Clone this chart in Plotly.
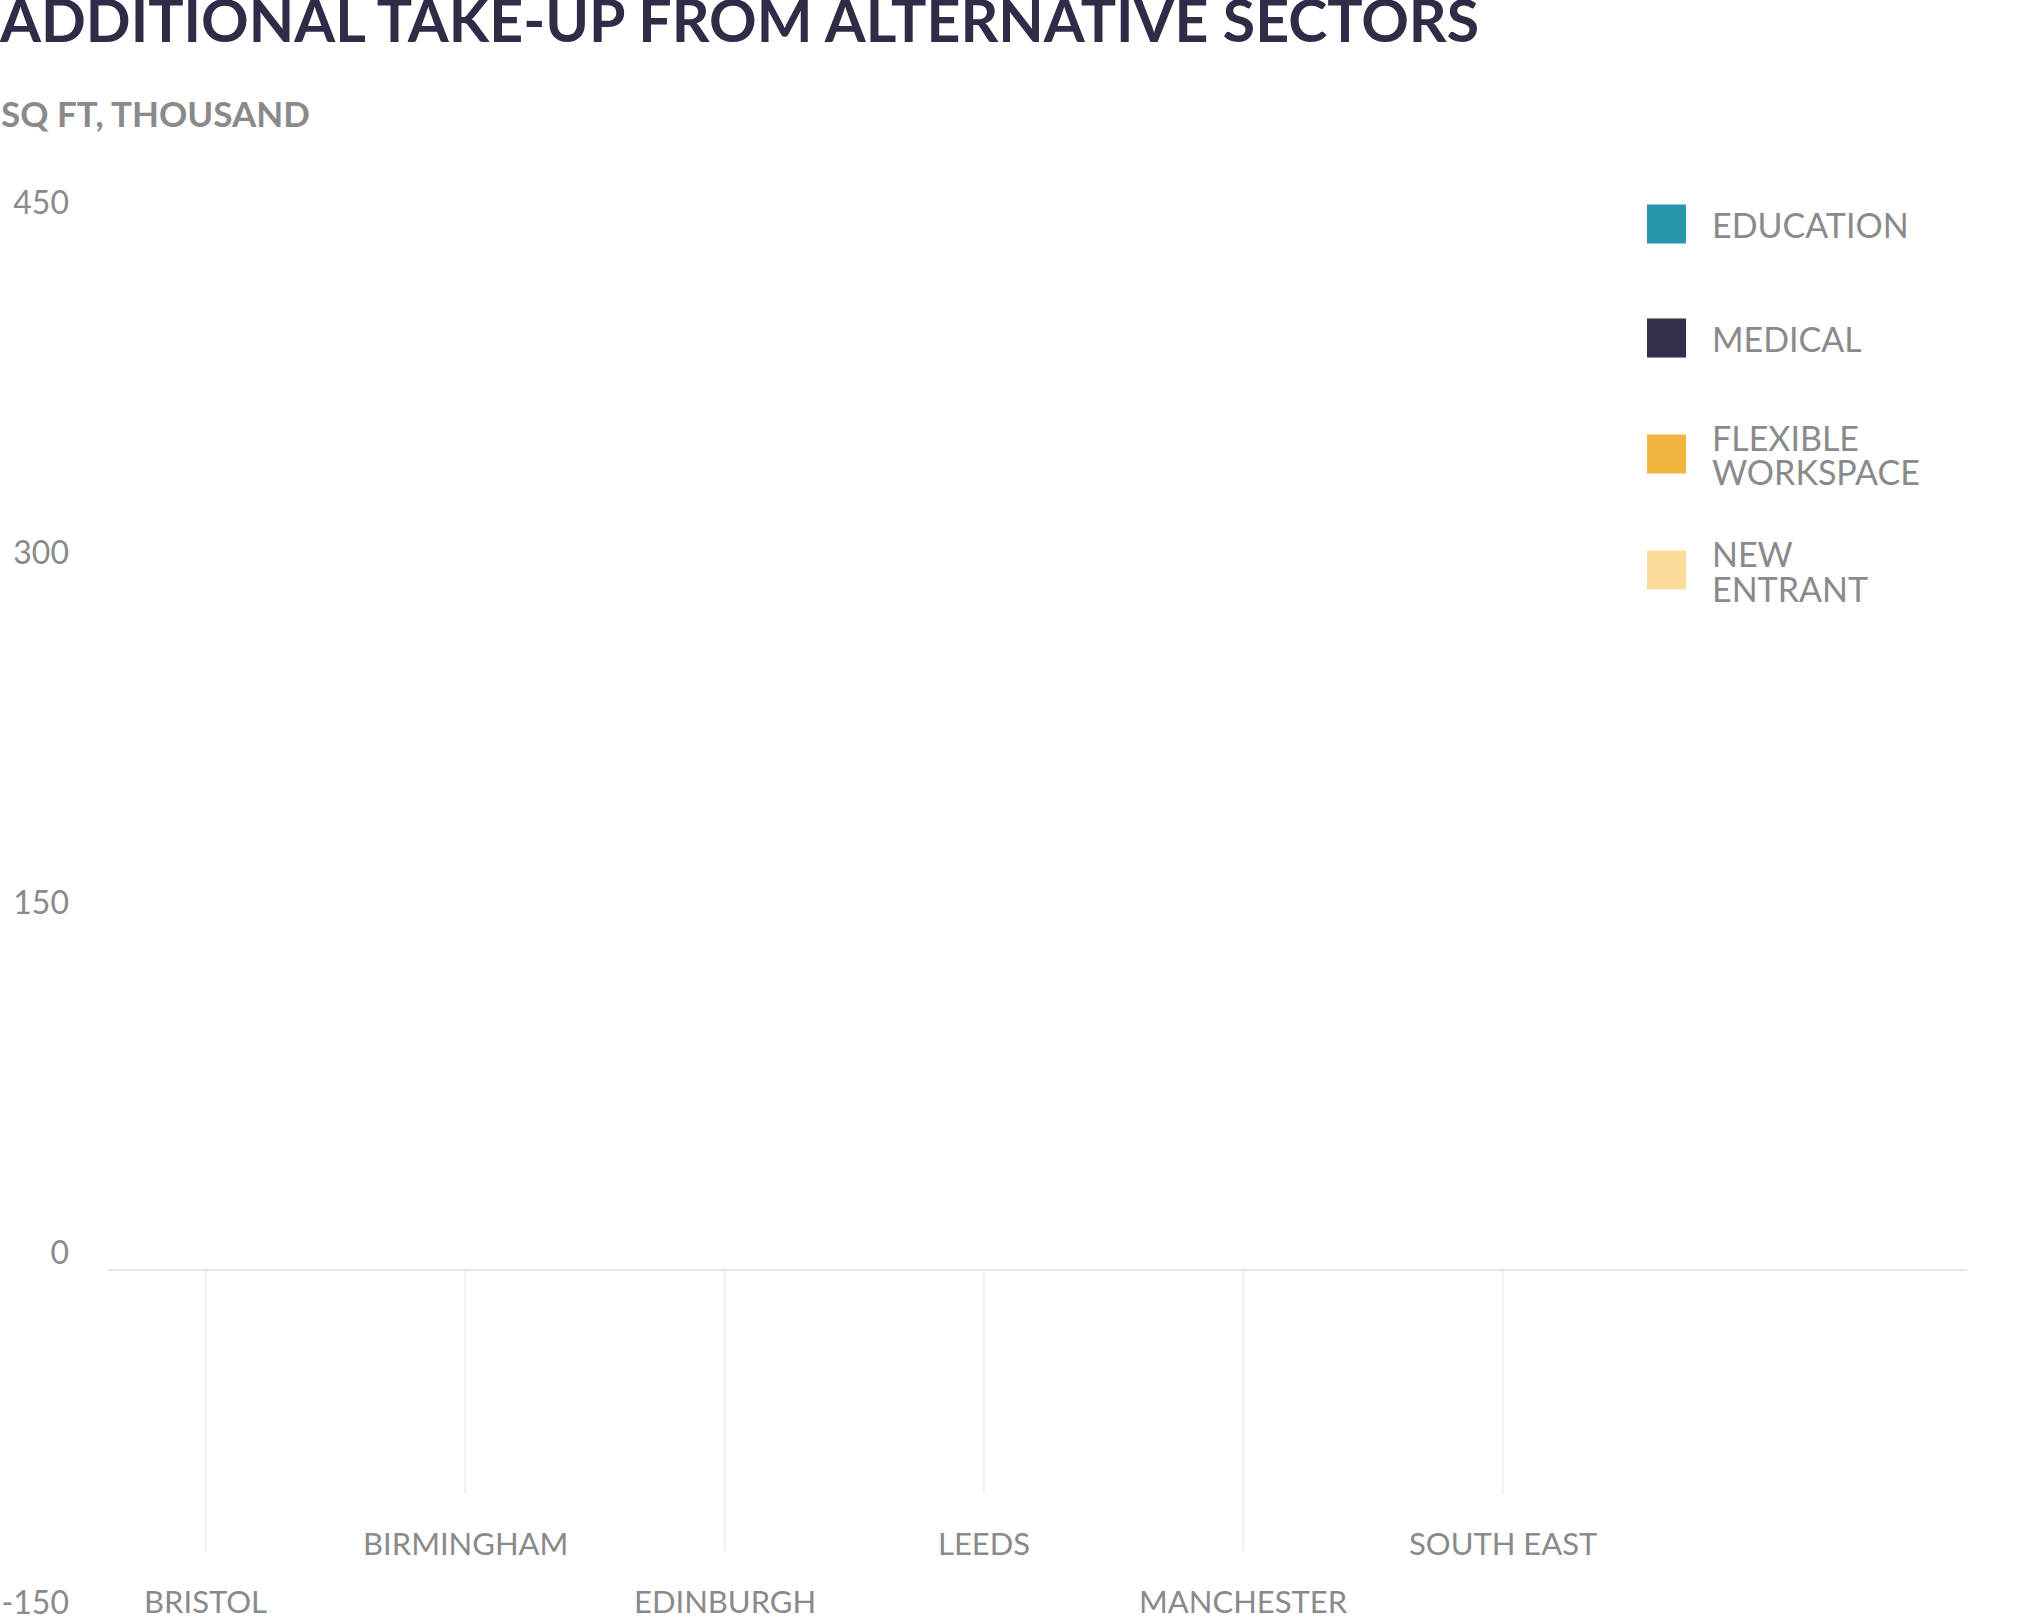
import plotly.graph_objects as go

# ---------------- data ----------------
categories = ["BRISTOL", "BIRMINGHAM", "EDINBURGH", "LEEDS", "MANCHESTER", "SOUTH EAST"]
series_names = ["EDUCATION", "MEDICAL", "FLEXIBLE<br>WORKSPACE", "NEW<br>ENTRANT"]
# the reference shows the chart before any bars have grown: every value reads 0
education = [0, 0, 0, 0, 0, 0]
medical = [0, 0, 0, 0, 0, 0]
flexible_workspace = [0, 0, 0, 0, 0, 0]
new_entrant = [0, 0, 0, 0, 0, 0]
y_ticks = [-150, 0, 150, 300, 450]
y_tick_labels = ["-150", "0", "150", "300", "450"]

series_values = [education, medical, flexible_workspace, new_entrant]
colors = ["#2596ab", "#322f4a", "#f2b640", "#f9dc9a"]

# ---------------- layout constants ----------------
W, H = 2040, 1620
ML, MR, MT, MB = 107, 73, 220, 0
PW, PH = W - ML - MR, H - MT - MB

def px_x(p):
    return (p - ML) / PW

def px_y(p):
    return (H - MB - p) / PH

GRAY = "#8a8a8a"
TEXT_FONT = "Lato"

fig = go.Figure()
for name, vals, col in zip(series_names, series_values, colors):
    fig.add_trace(go.Bar(
        x=categories, y=vals, name=name.replace("<br>", " "),
        marker=dict(color=col, line=dict(width=0)),
        showlegend=False, width=0.55,
    ))

# category labels (staggered) with leader lines
for i, cat in enumerate(categories):
    low = (i % 2 == 0)
    line_end = -120.5 if low else -96
    label_y = -142 if low else -117
    fig.add_shape(type="line", xref="x", yref="y", x0=cat, x1=cat, y0=0, y1=line_end,
                  line=dict(color="#ebebeb", width=1.5), layer="below")
    fig.add_annotation(xref="x", yref="y", x=cat, y=label_y, text=cat, showarrow=False,
                       xanchor="center", yanchor="middle",
                       font=dict(family=TEXT_FONT, size=31, color=GRAY))

# custom legend
legend_y = [224, 338, 454, 570]
LINE_GAP = 35
for name, col, cy in zip(series_names, colors, legend_y):
    fig.add_shape(type="rect", xref="paper", yref="paper",
                  x0=px_x(1647), x1=px_x(1686), y0=px_y(cy + 19.5), y1=px_y(cy - 19.5),
                  fillcolor=col, line=dict(width=0))
    lines = name.split("<br>")
    n = len(lines)
    for j, ln in enumerate(lines):
        ly = cy + (j - (n - 1) / 2) * LINE_GAP
        fig.add_annotation(xref="paper", yref="paper", x=px_x(1710), y=px_y(ly), text=ln,
                           showarrow=False, xanchor="left", yanchor="middle", align="left",
                           height=32, valign="middle",
                           font=dict(family=TEXT_FONT, size=34, color=GRAY))

# title and subtitle
fig.add_annotation(xref="paper", yref="paper", x=px_x(-3), y=px_y(19),
                   text="<b>ADDITIONAL TAKE-UP FROM ALTERNATIVE SECTORS</b>", showarrow=False,
                   xanchor="left", yanchor="middle",
                   font=dict(family="Lato", size=59, color="#2f2c48"))
fig.add_annotation(xref="paper", yref="paper", x=px_x(-1), y=px_y(113),
                   text="<b>SQ FT, THOUSAND</b>", showarrow=False,
                   xanchor="left", yanchor="middle",
                   font=dict(family="Lato", size=35, color=GRAY))

fig.update_layout(
    width=W, height=H,
    margin=dict(l=ML, r=MR, t=MT, b=MB, pad=0, autoexpand=False),
    paper_bgcolor="white", plot_bgcolor="white",
    barmode="relative",
    xaxis=dict(type="category", range=[-0.381, 6.79], showgrid=False, zeroline=False,
               showline=False, showticklabels=False, ticks="", automargin=False),
    yaxis=dict(range=[-150, 450], tickvals=y_ticks, ticktext=y_tick_labels, showgrid=False,
               zeroline=True, zerolinecolor="#e6e6e6", zerolinewidth=2,
               showline=False, ticks="", ticklabelshift=-17, ticklabelstandoff=37,
               ticklabeloverflow="allow", automargin=False,
               tickfont=dict(family=TEXT_FONT, size=32, color=GRAY)),
    font=dict(family=TEXT_FONT, color=GRAY),
)

fig.write_html("out.html", config={"displayModeBar": False},
               post_script="document.body.style.margin='0';document.body.style.overflow='hidden';")
